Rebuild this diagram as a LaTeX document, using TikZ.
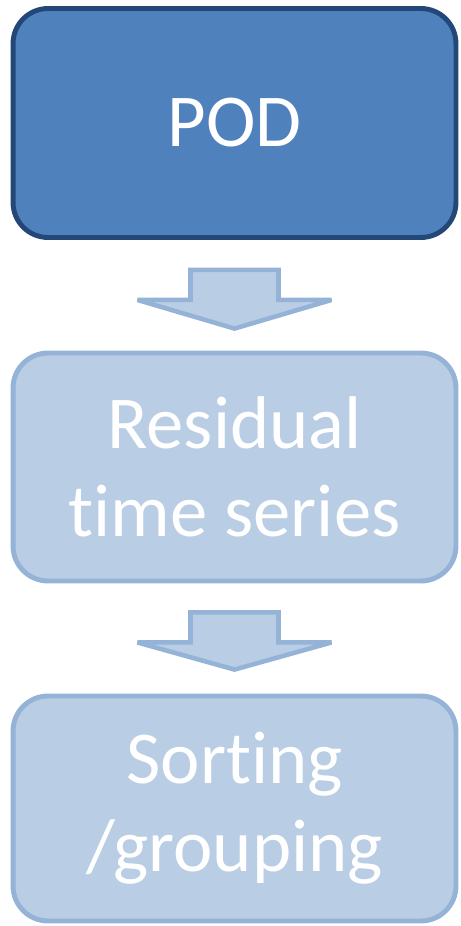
\documentclass[tikz,border=0pt]{standalone}
\usepackage{fontspec}
\setmainfont[Ligatures=NoCommon]{Carlito}
\usepackage{tikz}
\definecolor{podfill}{RGB}{79,129,189}
\definecolor{podline}{RGB}{35,72,120}
\definecolor{lightfill}{RGB}{185,205,229}
\definecolor{lightline}{RGB}{149,179,215}
\usetikzlibrary{calc}
\usetikzlibrary{positioning}

\tikzset{
  stagebox/.style={rounded corners=0.7cm, line width=2.8pt, minimum width=8.86cm,
    minimum height=4.5cm, align=center, text=white,
    font=\fontsize{42.5}{50}\selectfont},
  blockarrow/.style={fill=lightfill, draw=lightline, line width=2.6pt, line join=miter, miter limit=2}
}

\begin{document}
\begin{tikzpicture}[x=0.02cm, y=-0.02cm]

           \useasboundingbox (0,0) rectangle (460,926);

           % the three stages
           \node [stagebox, fill=podfill, draw=podline, minimum height=4.58cm] (pod) at (234.5,123) {POD};
           \node [stagebox, fill=lightfill, draw=lightline, minimum height=4.56cm] (resid) at (234.5,467) {Residual\\time series};
           \node [stagebox, fill=lightfill, draw=lightline] (sort) at (234.5,808.5) {Sorting\\/grouping};

           % block arrows between the stages
           \draw [blockarrow] ($(pod.south)+(-44,30)$) -- ($(pod.south)+(44,30)$) -- ($(pod.south)+(44,60)$)
                 -- ($(pod.south)+(97,60)$) -- ($(resid.north)+(0,-22)$) -- ($(pod.south)+(-97,60)$)
                 -- ($(pod.south)+(-44,60)$) -- cycle;

           \draw [blockarrow] ($(resid.south)+(-44,29)$) -- ($(resid.south)+(44,29)$) -- ($(resid.south)+(44,59)$)
                 -- ($(resid.south)+(97,59)$) -- ($(sort.north)+(0,-24)$) -- ($(resid.south)+(-97,59)$)
                 -- ($(resid.south)+(-44,59)$) -- cycle;

\end{tikzpicture}
\end{document}
